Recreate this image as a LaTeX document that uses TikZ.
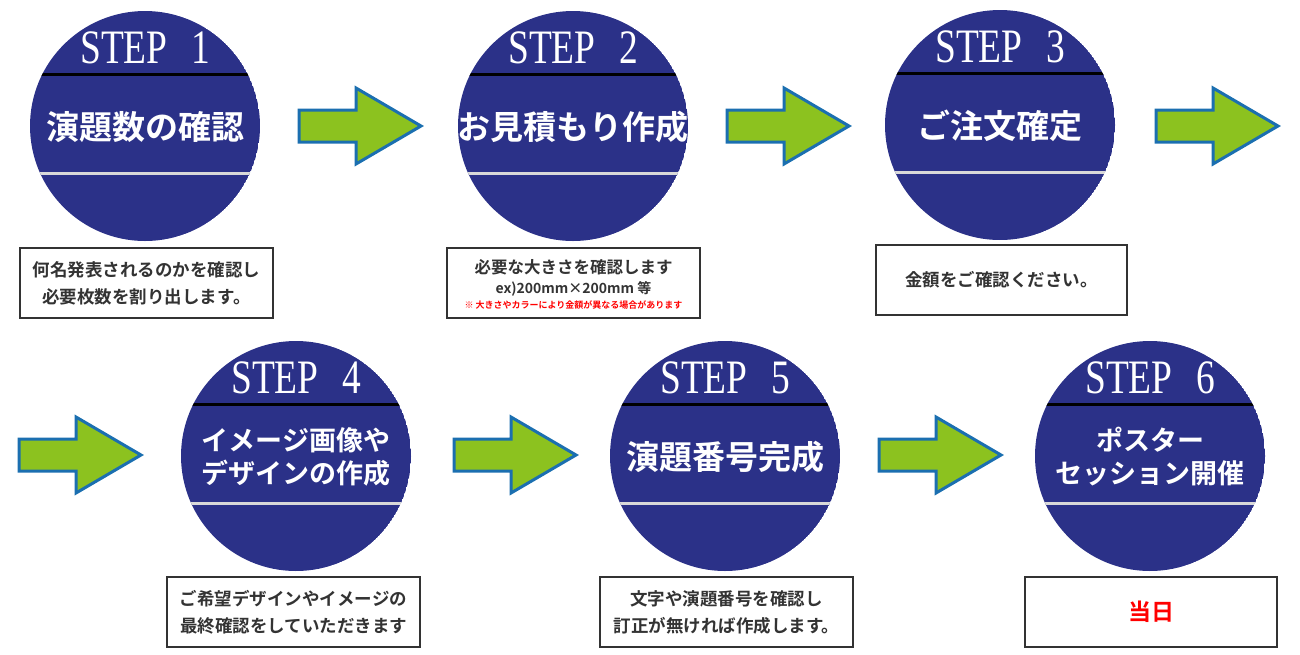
\documentclass[tikz,border=0pt]{standalone}
\usepackage{fontspec}
\setmainfont{Liberation Serif}
\newfontfamily\jpfont{Noto Sans CJK JP Bold}
\definecolor{stepblue}{HTML}{2B3188}
\definecolor{arrowgreen}{HTML}{8CC21F}
\definecolor{arrowedge}{HTML}{1B6FB0}
\definecolor{boxtext}{HTML}{333333}
\tikzset{
  title/.style={text=white, font=\jpfont\fontsize{33}{38}\selectfont, align=center},
  twoline/.style={font=\jpfont\fontsize{27}{33}\selectfont},
  steplabel/.style={text=white, font=\fontsize{48}{50}\selectfont, xscale=0.78},
  infobox/.style={draw=black!80, line width=1.2pt, fill=white},
  info/.style={text=boxtext, font=\jpfont\fontsize{17.5}{27}\selectfont, align=center},
  flow/.style={fill=arrowgreen, draw=arrowedge, line width=3pt, line join=miter}
}
% circle with step number and title
\newcommand{\stepdisc}[6]{%
  \begin{scope}
    \clip (#2,#3) circle (115);
    \fill[stepblue] (#2,#3) circle (115);
    \draw[black, line width=3pt] (#2-120,#3-52) -- (#2+120,#3-52);
    \draw[black!15, line width=3pt] (#2-120,#3+47) -- (#2+120,#3+47);
  \end{scope}
  \node[steplabel] (#1-num) at (#2,#3-78) {STEP\hspace{30pt}#4};
  \node[title, #6] (#1-title) at (#2,#3+1) {#5};
}
% green arrow
\newcommand{\flowarrow}[2]{%
  \draw[flow] (#1,#2-16) -- ++(57,0) -- ++(0,-22) -- (#1+122,#2)
    -- (#1+57,#2+38) -- ++(0,-22) -- (#1,#2+16) -- cycle;
}
\begin{document}
\begin{tikzpicture}[x=1pt, y=-1pt]
  \useasboundingbox (0,0) rectangle (1300,654);

  % row 1
  \stepdisc{s1}{145}{126}{1}{演題数の確認}{}
  \stepdisc{s2}{573}{126}{2}{お見積もり作成}{}
  \stepdisc{s3}{1000}{125}{3}{ご注文確定}{}
  \flowarrow{299}{126}
  \flowarrow{727}{126}
  \flowarrow{1156}{126}

  \draw[infobox] (20,248) rectangle (273,318);
  \node[info] (b1) at (146.5,283) {何名発表されるのかを確認し\\必要枚数を割り出します。};
  \draw[infobox] (447,248) rectangle (700,318);
  \node[info, font=\jpfont\fontsize{16.5}{18}\selectfont] (b2) at (573.5,267) {必要な大きさを確認します};
  \node[info, font=\jpfont\fontsize{14}{16}\selectfont] (b2b) at (573.5,289) {ex)200mm×200mm 等};
  \node[info, text=red, font=\jpfont\fontsize{9}{10}\selectfont] (b2c) at (573.5,305) {※ 大きさやカラーにより金額が異なる場合があります};
  \draw[infobox] (876,245) rectangle (1127,315);
  \node[info] (b3) at (1001.5,280) {金額をご確認ください。};

  % row 2
  \flowarrow{19}{455}
  \flowarrow{454}{455}
  \flowarrow{879}{455}
  \stepdisc{s4}{296}{456}{4}{イメージ画像や\\デザインの作成}{twoline}
  \stepdisc{s5}{725}{456}{5}{演題番号完成}{}
  \stepdisc{s6}{1150}{456}{6}{ポスター\\セッション開催}{twoline}

  \draw[infobox] (167,577) rectangle (420,647);
  \node[info] (b4) at (293.5,612) {ご希望デザインやイメージの\\最終確認をしていただきます};
  \draw[infobox] (600,577) rectangle (853,647);
  \node[info] (b5) at (726.5,612) {文字や演題番号を確認し\\訂正が無ければ作成します。};
  \draw[infobox] (1025,577) rectangle (1277,647);
  \node[info, text=red, font=\jpfont\fontsize{23}{24}\selectfont] (b6) at (1151,612) {当日};
\end{tikzpicture}
\end{document}
